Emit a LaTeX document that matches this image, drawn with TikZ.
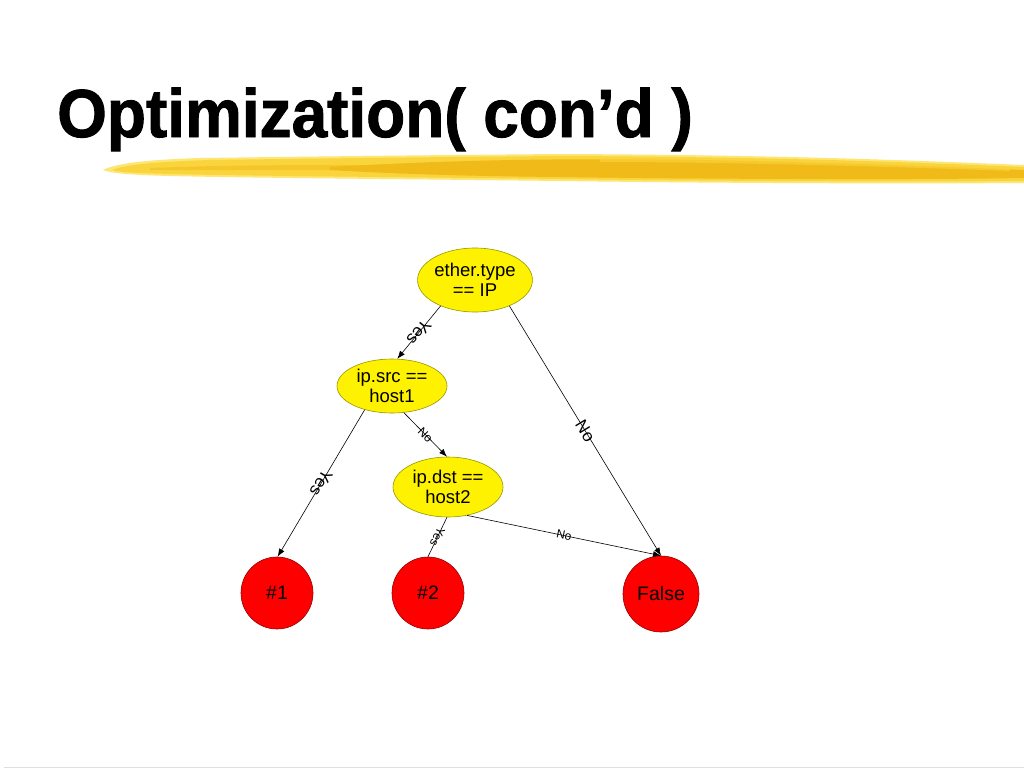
\documentclass[tikz,border=0pt]{standalone}
\usepackage{fontspec}
\setmainfont{Liberation Sans}
\newfontfamily\heavyfont[FakeBold=1.4]{Liberation Sans Bold}
\usetikzlibrary{shapes.geometric,arrows.meta}
\definecolor{brushA}{RGB}{250,212,60}
\definecolor{brushB}{RGB}{240,186,25}
\definecolor{brushC}{RGB}{253,230,115}
\definecolor{ybord}{RGB}{150,150,0}
\definecolor{rbord}{RGB}{150,0,0}
\tikzset{
  cond/.style={ellipse, draw=ybord, fill=yellow, line width=0.6pt, inner sep=0pt, align=center, font=\fontsize{18.5}{20}\selectfont},
  leaf/.style={circle, draw=rbord, fill=red, line width=0.6pt, inner sep=0pt, font=\fontsize{19.5}{21}\selectfont},
  conn/.style={draw=black, line width=0.6pt},
  arr/.style={conn, -{Latex[length=8pt,width=6pt]}},
  big/.style={sloped, allow upside down, midway, inner sep=0pt, font=\fontsize{17}{17}\selectfont},
  small/.style={sloped, allow upside down, midway, inner sep=0pt, font=\fontsize{12}{12}\selectfont},
}
\begin{document}
\begin{tikzpicture}[x=1pt,y=-1pt]
\useasboundingbox (0,0) rectangle (1024,768);
\fill[white] (0,0) rectangle (1024,768);
% title
\node[anchor=base west, inner sep=0pt] (title) at (57,137) {\scalebox{0.94}[1]{\heavyfont\fontsize{68}{70}\selectfont Optimization( con’d )}};
% brush stroke
\fill[brushC] (103,170) .. controls (115,164) and (140,160) .. (200,158) .. controls (350,156) and (450,155) .. (560,154) .. controls (780,155) and (900,160) .. (1024,165) -- (1024,183) .. controls (900,184) and (700,183) .. (560,181) .. controls (400,179) and (250,178) .. (170,176) .. controls (130,175) and (110,173) .. (103,170) -- cycle;
\fill[brushA] (112,170) .. controls (125,165) and (150,162) .. (210,160) .. controls (350,158) and (450,157) .. (560,156) .. controls (780,157) and (900,162) .. (1024,167) -- (1024,181) .. controls (900,182) and (700,181) .. (560,179) .. controls (400,177) and (250,176) .. (170,174) .. controls (135,173) and (118,172) .. (112,170) -- cycle;
\fill[brushB] (330,167) .. controls (450,160) and (560,158) .. (700,160) .. controls (850,163) and (950,167) .. (1024,170) -- (1024,178) .. controls (900,180) and (700,179) .. (560,177) .. controls (450,176) and (380,173) .. (330,170) -- cycle;
\fill[brushA, opacity=0.6] (600,158) .. controls (700,157) and (850,160) .. (1010,168) -- (1010,171) .. controls (850,165) and (700,162) .. (600,162) -- cycle;
\fill[brushB, opacity=0.5] (150,168) .. controls (250,164) and (350,165) .. (450,166) -- (450,170) .. controls (350,170) and (250,170) .. (150,170) -- cycle;
% bottom line
\draw[gray!25, line width=1pt] (4,767) -- (1024,767);
% nodes
\node[cond, minimum width=108pt, minimum height=64pt] (ether) at (475,280) {ether.type\\== IP};
\node[cond, minimum width=110pt, minimum height=54pt] (ipsrc) at (392,386) {ip.src ==\\host1};
\node[cond, minimum width=110pt, minimum height=60pt] (ipdst) at (448,487) {ip.dst ==\\host2};
\node[leaf, minimum size=72pt] (r1) at (277,593) {\#1};
\node[leaf, minimum size=72pt] (r2) at (428,593) {\#2};
\node[leaf, minimum size=76pt] (rf) at (661,594) {False};
% edges
\draw[arr] (ether.-143) -- node[big] {Yes} (ipsrc.79);
\draw[arr] (ether.-37) -- node[big] {No} (rf.90);
\draw[arr] (ipsrc.-139) -- node[big] {Yes} (r1.89);
\draw[arr] (ipsrc.-66) -- node[small] {No} (ipdst.92);
\draw[conn] (ipdst.-92) -- node[small] {Yes} (r2.90);
\draw[arr] (ipdst.-56) -- node[small] {No} (rf.90);
\end{tikzpicture}
\end{document}
